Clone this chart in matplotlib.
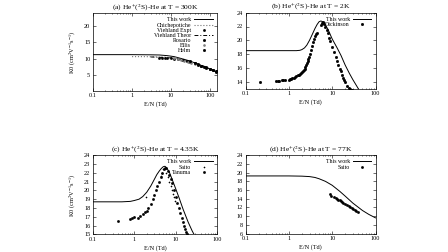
import matplotlib
matplotlib.use("Agg")
import matplotlib.pyplot as plt

plt.rcParams['font.family'] = ['Liberation Serif', 'DejaVu Serif']
plt.rcParams['font.size'] = 4.5
plt.rcParams['mathtext.fontset'] = 'stix'

# (a) T = 300K
a_work_x = [0.1, 0.3, 1, 3, 5, 8, 12, 20, 30, 50, 80, 120, 150]
a_work_y = [11.3, 11.3, 11.3, 11.25, 11.2, 11.0, 10.7, 10.0, 9.4, 8.4, 7.4, 6.5, 6.0]
a_chi_x = [1, 2, 4, 7, 10, 15, 20]
a_chi_y = [10.7, 10.7, 10.65, 10.55, 10.4, 10.2, 9.9]
a_vexp_x = [5, 6, 7, 8, 10, 12, 15, 20]
a_vexp_y = [10.4, 10.4, 10.35, 10.3, 10.2, 10.1, 9.9, 9.6]
a_vth_x = [3, 5, 10, 20, 40, 70, 100, 150]
a_vth_y = [10.6, 10.5, 10.3, 9.7, 8.8, 7.8, 7.0, 6.2]
a_ros_x = [20, 25, 30, 40, 50, 60, 70, 80, 100, 120, 140]
a_ros_y = [9.8, 9.5, 9.2, 8.8, 8.4, 8.0, 7.7, 7.5, 7.0, 6.6, 6.2]
a_ell_x = [12, 15, 18, 22, 27, 33, 40]
a_ell_y = [10.2, 10.0, 9.8, 9.5, 9.2, 8.9, 8.6]
a_helm_x = [30, 40, 50, 60, 80, 100, 120, 140, 150]
a_helm_y = [9.3, 8.8, 8.3, 8.0, 7.4, 7.0, 6.7, 6.4, 6.3]

# (b) T = 2K
b_work_x = [0.1, 0.5, 1, 1.5, 1.8, 2.0, 2.3, 2.6, 3.0, 3.5, 4.0, 4.5, 5.0, 5.5,
            6, 7, 8, 10, 13, 16, 20, 25, 30, 40, 45]
b_work_y = [18.5, 18.5, 18.5, 18.5, 18.55, 18.65, 18.9, 19.3, 20.0, 20.9, 21.7, 22.3, 22.7, 22.8,
            22.7, 22.2, 21.6, 20.2, 18.9, 17.8, 16.4, 15.2, 14.3, 13.0, 12.5]
b_dick_x = [0.22, 0.5, 0.55, 0.6, 0.7, 0.75, 0.8, 1.0, 1.05, 1.1, 1.2, 1.3, 1.4, 1.5,
            1.6, 1.7, 1.8, 1.9, 2.0, 2.1, 2.2, 2.3, 2.4, 2.5, 2.6, 2.7, 2.8, 2.9, 3.0,
            3.2, 3.4, 3.6, 3.8, 4.0, 4.2, 4.4, 5.5, 5.8, 6.0, 6.3, 6.6, 7.0, 7.5, 8, 8.5,
            9, 10, 11, 12, 13, 14, 15, 16, 17, 18, 19, 20, 22, 24, 26, 28, 30]
b_dick_y = [14.0, 14.1, 14.1, 14.15, 14.2, 14.2, 14.25, 14.3, 14.35, 14.4, 14.5, 14.6, 14.7, 14.8,
            14.9, 15.0, 15.1, 15.2, 15.4, 15.5, 15.7, 15.9, 16.1, 16.4, 16.7, 17.0, 17.3, 17.6, 18.0,
            18.6, 19.2, 19.8, 20.2, 20.6, 20.9, 21.1, 22.2, 22.5, 22.6, 22.5, 22.3, 22.0, 21.5, 21.0, 20.4,
            19.9, 19.0, 18.3, 17.6, 17.0, 16.4, 15.9, 15.5, 15.0, 14.6, 14.2, 13.9, 13.4, 13.1, 12.9, 12.8, 12.7]

# (c) T = 4.35K
c_work_x = [0.1, 0.3, 0.5, 0.8, 1.0, 1.3, 1.6, 2.0, 2.5, 3.0, 3.5, 4.0, 4.5, 5.0, 5.5,
            6, 7, 8, 10, 12, 15, 20, 25, 30]
c_work_y = [18.7, 18.7, 18.7, 18.75, 18.85, 19.0, 19.3, 19.8, 20.5, 21.2, 21.8, 22.2, 22.5, 22.7, 22.75,
            22.6, 22.1, 21.4, 20.2, 19.2, 17.9, 16.4, 15.4, 14.7]
c_saito_x = [1.9, 4.3, 4.7, 5.0, 6.0, 6.5, 7.0, 7.5, 8.0, 8.5, 9, 9.5]
c_saito_y = [19.3, 21.6, 22.0, 22.4, 22.0, 21.5, 21.0, 20.5, 20.0, 19.6, 19.2, 18.8]
c_tan_x = [0.4, 0.8, 0.9, 1.0, 1.2, 1.4, 1.6, 1.8, 2.0, 2.2, 2.5, 2.8, 3.0, 3.3, 3.6,
           4.0, 4.4, 4.8, 5.2, 5.6, 6.0, 6.5, 7, 7.5, 8, 9, 10, 11, 12, 13, 14, 15, 16,
           17, 18, 19, 20]
c_tan_y = [16.55, 16.7, 16.85, 17.0, 16.9, 17.1, 17.3, 17.5, 17.7, 18.0, 18.5, 19.0, 19.5, 20.0, 20.5,
           21.0, 21.5, 22.0, 22.4, 22.6, 22.5, 22.2, 21.8, 21.3, 20.8, 20.0, 19.2, 18.6, 18.0, 17.4, 16.9, 16.4, 16.0,
           15.6, 15.3, 15.0, 14.8]

# (d) T = 77K
d_work_x = [0.1, 0.5, 1, 2, 3, 4, 5, 7, 10, 15, 20, 30, 50, 70, 100]
d_work_y = [19.25, 19.25, 19.25, 19.2, 19.1, 18.9, 18.6, 18.0, 17.1, 15.7, 14.6, 13.0, 11.3, 10.4, 9.6]
d_saito_x = [9, 9.5, 11, 12, 13, 14, 15, 16, 17, 18, 20, 22, 24, 26, 28, 30, 33, 36, 40]
d_saito_y = [15.0, 14.7, 14.4, 14.2, 14.0, 13.8, 13.6, 13.4, 13.3, 13.1, 12.8, 12.5, 12.3, 12.0,
             11.8, 11.6, 11.4, 11.1, 10.9]

K0_LABEL = r'K0 (cm$^2$V$^{-1}$s$^{-1}$)'
W, H = 448, 252


def make_axes(fig, left, top, right, bottom):
    ax = fig.add_axes([left / W, 1 - bottom / H, (right - left) / W, (bottom - top) / H])
    ax.set_xscale('log')
    ax.tick_params(which='both', direction='in', top=True, right=True, pad=2, width=0.4)
    ax.tick_params(which='major', length=2)
    ax.tick_params(which='minor', length=1)
    for s in ax.spines.values():
        s.set_linewidth(0.5)
    ax.set_xticks([0.1, 1, 10, 100])
    ax.set_xticklabels(['0.1', '1', '10', '100'])
    return ax


def style_legend(ax, **kw):
    ax.legend(loc='upper right', frameon=False, markerfirst=False, handlelength=3.2,
              handletextpad=0.5, labelspacing=0.0, borderaxespad=0.3, fontsize=4.2, **kw)


fig = plt.figure(figsize=(W / 100, H / 100), dpi=100)

# (a)
ax = make_axes(fig, 93, 13.3, 217, 90.7)
ax.plot(a_work_x, a_work_y, 'k-', lw=0.7, label='This work')
ax.plot(a_chi_x, a_chi_y, ls=':', color='0.45', lw=0.8, label='Chichepotiche')
ax.plot(a_vexp_x, a_vexp_y, 'ks', ms=0.9, ls='none', label='Viehland Expt')
ax.plot(a_vth_x, a_vth_y, color='k', ls=(0, (4, 2, 1, 2)), lw=0.7, label='Viehland Theor')
ax.plot(a_ros_x, a_ros_y, 'ks', ms=1.0, ls='none', label='Rosario')
ax.plot(a_ell_x, a_ell_y, 'o', color='0.5', ms=0.9, ls='none', label='Ellis')
ax.plot(a_helm_x, a_helm_y, 'ks', ms=1.0, ls='none', label='Helm')
ax.set_xlim(0.1, 150)
ax.set_ylim(0.4, 23.8)
ax.set_yticks([5, 10, 15, 20])
ax.set_title(r'(a) He$^{+}$($^{2}$S)-He at T = 300K', pad=3)
ax.set_xlabel('E/N (Td)', labelpad=2)
ax.set_ylabel(K0_LABEL, labelpad=4)
style_legend(ax)

# (b)
ax = make_axes(fig, 245.5, 12.7, 375.5, 88.6)
ax.plot(b_work_x, b_work_y, 'k-', lw=0.7, label='This work')
ax.plot(b_dick_x, b_dick_y, 'ks', ms=1.0, ls='none', label='Dickinson')
ax.set_xlim(0.1, 100)
ax.set_ylim(13, 24)
ax.set_yticks([14, 16, 18, 20, 22, 24])
ax.set_title(r'(b) He$^{+}$($^{2}$S)-He at T = 2K', pad=3)
ax.set_xlabel('E/N (Td)', labelpad=2)
style_legend(ax)

# (c)
ax = make_axes(fig, 93, 155.3, 217, 234.3)
ax.plot(c_work_x, c_work_y, 'k-', lw=0.7, label='This work')
ax.plot(c_saito_x, c_saito_y, 'k+', ms=1.5, mew=0.4, ls='none', label='Saito')
ax.plot(c_tan_x, c_tan_y, 'ks', ms=0.9, ls='none', label='Tanuma')
ax.set_xlim(0.1, 100)
ax.set_ylim(15, 24)
ax.set_yticks(range(15, 25))
ax.set_title(r'(c) He$^{+}$($^{2}$S)-He at T = 4.35K', pad=3)
ax.set_xlabel('E/N (Td)', labelpad=2)
ax.set_ylabel(K0_LABEL, labelpad=4)
style_legend(ax)

# (d)
ax = make_axes(fig, 245.5, 155.3, 375.5, 233.5)
ax.plot(d_work_x, d_work_y, 'k-', lw=0.7, label='This work')
ax.plot(d_saito_x, d_saito_y, 'ks', ms=0.9, ls='none', label='Saito')
ax.set_xlim(0.1, 100)
ax.set_ylim(6, 24)
ax.set_yticks(range(6, 25, 2))
ax.set_title(r'(d) He$^{+}$($^{2}$S)-He at T = 77K', pad=3)
ax.set_xlabel('E/N (Td)', labelpad=2)
style_legend(ax)

fig.savefig('out.png', dpi=100)
